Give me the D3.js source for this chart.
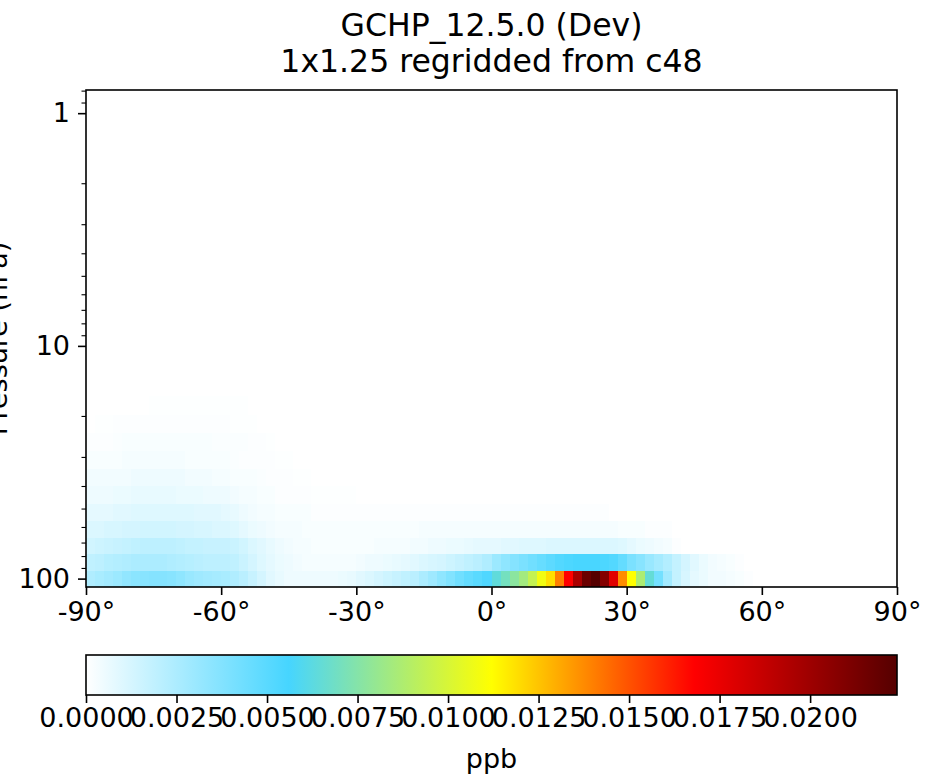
<!DOCTYPE html>
<html><head><meta charset="utf-8">
<script src="https://cdn.jsdelivr.net/npm/d3@7"></script>
<style>
body{margin:0;background:#fff}
svg{display:block}
text{font-family:"DejaVu Sans",sans-serif;fill:#000}
</style></head>
<body><svg id="c" width="937" height="780"></svg>
<script>
// ---------------- data ----------------
const titleLines = ["GCHP_12.5.0 (Dev)", "1x1.25 regridded from c48"];
const yLabel = "Pressure (hPa)";
const unitLabel = "ppb";
const latTicks = [-90, -60, -30, 0, 30, 60, 90];
const pressureMajorTicks = [1, 10, 100];
const pressureMinorTicks = [0.8, 0.9, 2, 3, 4, 5, 6, 7, 8, 9, 20, 30, 40, 50, 60, 70, 80, 90];
const cbarTicks = [0, 0.0025, 0.005, 0.0075, 0.01, 0.0125, 0.015, 0.0175, 0.02];
// model level pressure edges (hPa), bottom to top of the plotted range
const levelEdges = [108.663, 92.3657, 78.5123, 66.6034, 56.3879, 47.6439, 40.1754, 33.8100,
  28.3678, 23.7304, 19.7916, 16.4571, 13.6434, 11.2769, 9.2929, 7.6198, 6.2168, 5.0468,
  4.0766, 3.2764, 2.6202, 2.0850, 1.6508, 1.3005, 1.0194, 0.7951];
// latitude bin edges (2 degree bins)
const latEdges = d3.range(-90, 90.001, 2);
const UNIT = 1e-4; // values below are in 1e-4 ppb
// one row per model level, starting at the bottom level; 90 latitude bins (-89..89)
const lev1 = [24,26,28,30,33,35,36,37,37,36, 34,31,29,28,27,26,24,21,17,13,
  9,7,5,5,5,5,5,5,6,7, 9,11,13,15,17,19,21,25,29,34, 38,43,47,50,53,64,70,77,84,94,
  108,119,140,168,196,217,224,209,178,137, 112,87,65,42,28,18,12,8,6,4,
  4,3,2,1,0,0,0,0,0,0, 0,0,0,0,0,0,0,0,0,0];
const lev2 = [19,20,22,23,24,25,25,25,25,24, 23,22,21,20,20,20,19,16,13,10,
  8,6,5,4,3,3,3,3,3,3, 4,5,5,6,7,8,9,11,12,13, 15,17,19,21,24,30,34,37,40,43,
  46,49,52,54,55,55,55,54,52,47, 40,36,31,27,23,18,13,9,6,4,
  3,2,1,0,0,0,0,0,0,0, 0,0,0,0,0,0,0,0,0,0];
const lev3 = [14,15,16,17,18,19,20,20,20,20, 19,18,18,17,17,17,16,14,11,9,
  7,5,4,3,3,2,2,2,2,2, 2,2,3,3,3,3,4,4,5,5, 6,6,7,8,8,8,9,9,10,10,
  10,11,11,11,11,11,11,11,11,10, 8,6,5,4,3,1,0,0,0,0,
  0,0,0,0,0,0,0,0,0,0, 0,0,0,0,0,0,0,0,0,0];
const lev4 = [11,11,12,12,13,13,14,14,14,14, 13,13,12,12,11,11,10,8,6,5,
  4,3,3,3,2,2,2,2,2,2, 2,2,2,2,2,2,2,3,3,3, 3,3,3,3,3,3,3,3,3,3,
  3,3,3,3,3,3,3,3,3,2, 2,2,1,1,1,0,0,0,0,0,
  0,0,0,0,0,0,0,0,0,0, 0,0,0,0,0,0,0,0,0,0];
const lev5 = [8,8,8,9,9,10,10,10,10,10, 10,10,9,9,9,8,7,5,4,3,
  3,2,2,2,2,1,1,1,1,1, 1,1,1,1,1,1,1,1,1,1, 1,1,1,1,1,1,1,1,1,1,
  1,1,1,1,1,1,1,1,0,0, 0,0,0,0,0,0,0,0,0,0,
  0,0,0,0,0,0,0,0,0,0, 0,0,0,0,0,0,0,0,0,0];
const lev6 = [5,5,5,6,6,7,7,7,7,7, 6,6,6,5,5,5,4,3,3,2,
  2,1,1,1,1,0.5,0.5,0.5,0.5,0.5, 0,0,0,0,0,0,0,0,0,0, 0,0,0,0,0,0,0,0,0,0,
  0,0,0,0,0,0,0,0,0,0, 0,0,0,0,0,0,0,0,0,0,
  0,0,0,0,0,0,0,0,0,0, 0,0,0,0,0,0,0,0,0,0];
const lev7 = [4,4,4,4,4,5,5,5,5,5, 5,4,4,4,3,3,2,2,2,1.5,
  1,1,1,0.5,0.5,0,0,0,0,0, 0,0,0,0,0,0,0,0,0,0, 0,0,0,0,0,0,0,0,0,0,
  0,0,0,0,0,0,0,0,0,0, 0,0,0,0,0,0,0,0,0,0,
  0,0,0,0,0,0,0,0,0,0, 0,0,0,0,0,0,0,0,0,0];
const lev8 = [2,2,2,2,3,3,3,3,3,3, 3,2,2,2,2,2,1.5,1,1,1,
  1,0.5,0.5,0,0,0,0,0,0,0, 0,0,0,0,0,0,0,0,0,0, 0,0,0,0,0,0,0,0,0,0,
  0,0,0,0,0,0,0,0,0,0, 0,0,0,0,0,0,0,0,0,0,
  0,0,0,0,0,0,0,0,0,0, 0,0,0,0,0,0,0,0,0,0];
const lev9 = [1,1,1,1.5,2,2,2,2,2,2, 2,2,2,2,1.5,1.5,1.5,1.5,1,1,
  0.5,0,0,0,0,0,0,0,0,0, 0,0,0,0,0,0,0,0,0,0, 0,0,0,0,0,0,0,0,0,0,
  0,0,0,0,0,0,0,0,0,0, 0,0,0,0,0,0,0,0,0,0,
  0,0,0,0,0,0,0,0,0,0, 0,0,0,0,0,0,0,0,0,0];
const lev10 = [0,0.5,0.5,1,1,1,1,1,1,1, 1,1,1,1,1,1,0.5,0.5,0.5,0,
  0,0,0,0,0,0,0,0,0,0, 0,0,0,0,0,0,0,0,0,0, 0,0,0,0,0,0,0,0,0,0,
  0,0,0,0,0,0,0,0,0,0, 0,0,0,0,0,0,0,0,0,0,
  0,0,0,0,0,0,0,0,0,0, 0,0,0,0,0,0,0,0,0,0];
const lev11 = [0,0,0,0,0,0,0,0.5,0.5,0.5, 0.5,0.5,0.5,0.5,0.5,0.5,0.5,0.5,0,0,
  0,0,0,0,0,0,0,0,0,0, 0,0,0,0,0,0,0,0,0,0, 0,0,0,0,0,0,0,0,0,0,
  0,0,0,0,0,0,0,0,0,0, 0,0,0,0,0,0,0,0,0,0,
  0,0,0,0,0,0,0,0,0,0, 0,0,0,0,0,0,0,0,0,0];
const levelRows = [lev1, lev2, lev3, lev4, lev5, lev6, lev7, lev8, lev9, lev10, lev11];
// colormap (WhGrYlRd-like)
const cmapStops = [0, 0.25, 0.5, 0.75, 1];
const cmapColors = ["#ffffff", "#46d5ff", "#ffff00", "#ff0000", "#550000"];

// ---------------- drawing ----------------
const TICK_FONT = 27;
const svg = d3.select("#c");
const P = {left: 86, right: 897, top: 90, bottom: 587};
const x = d3.scaleLinear().domain([-90, 90]).range([P.left, P.right]);
const y = d3.scaleLog().domain([levelEdges[levelEdges.length - 1], levelEdges[0]]).range([P.top, P.bottom]);
const vmax = d3.max(levelRows.flat()) * UNIT;
const color = d3.scaleLinear().domain(cmapStops.map(s => s * vmax)).range(cmapColors)
  .interpolate(d3.interpolateRgb).clamp(true);

const cells = [];
levelRows.forEach((row, k) => {
  row.forEach((v, i) => {
    if (v > 0) cells.push({k, i, v: v * UNIT});
  });
});
svg.append("g").attr("shape-rendering", "crispEdges")
  .selectAll("rect").data(cells).join("rect")
  .attr("x", d => x(latEdges[d.i]))
  .attr("width", d => x(latEdges[d.i + 1]) - x(latEdges[d.i]))
  .attr("y", d => y(levelEdges[d.k + 1]))
  .attr("height", d => y(levelEdges[d.k]) - y(levelEdges[d.k + 1]))
  .attr("fill", d => color(d.v));

// frame
svg.append("rect").attr("x", P.left).attr("y", P.top)
  .attr("width", P.right - P.left).attr("height", P.bottom - P.top)
  .attr("fill", "none").attr("stroke", "#000").attr("stroke-width", 1.6);

// x axis
const gx = svg.append("g").attr("transform", `translate(0,${P.bottom})`)
  .call(d3.axisBottom(x).tickValues(latTicks).tickSize(8).tickPadding(7).tickFormat(d => d + "°"));
gx.select(".domain").remove();
gx.selectAll(".tick line").attr("stroke-width", 1.6);
gx.selectAll("text").attr("font-size", TICK_FONT).attr("font-family", "DejaVu Sans");

// y axis
const gy = svg.append("g").attr("transform", `translate(${P.left},0)`)
  .call(d3.axisLeft(y).tickValues(pressureMajorTicks).tickSize(8).tickPadding(8).tickFormat(d3.format("d")));
gy.select(".domain").remove();
gy.selectAll(".tick line").attr("stroke-width", 1.6);
gy.selectAll("text").attr("font-size", TICK_FONT).attr("font-family", "DejaVu Sans");
const gym = svg.append("g").attr("transform", `translate(${P.left},0)`)
  .call(d3.axisLeft(y).tickValues(pressureMinorTicks).tickSize(4.5).tickFormat(""));
gym.select(".domain").remove();
gym.selectAll(".tick line").attr("stroke-width", 1.1);

svg.append("text").attr("transform", `translate(7,${(P.top + P.bottom) / 2}) rotate(-90)`)
  .attr("text-anchor", "middle").attr("font-size", TICK_FONT).text(yLabel);

// title
titleLines.forEach((t, i) => {
  svg.append("text").attr("x", (P.left + P.right) / 2).attr("y", 36 + i * 36)
    .attr("text-anchor", "middle").attr("font-size", 31.5).text(t);
});

// colorbar
const CB = {top: 655, bottom: 695};
const cx = d3.scaleLinear().domain([0, vmax]).range([P.left, P.right]);
const grad = svg.append("defs").append("linearGradient").attr("id", "cbg")
  .attr("x1", "0%").attr("x2", "100%").attr("y1", "0%").attr("y2", "0%");
grad.selectAll("stop").data(cmapStops).join("stop")
  .attr("offset", d => (d * 100) + "%")
  .attr("stop-color", (d, i) => cmapColors[i]);
svg.append("rect").attr("x", P.left).attr("y", CB.top)
  .attr("width", P.right - P.left).attr("height", CB.bottom - CB.top)
  .attr("fill", "url(#cbg)").attr("stroke", "#000").attr("stroke-width", 1.6);
const gc = svg.append("g").attr("transform", `translate(0,${CB.bottom})`)
  .call(d3.axisBottom(cx).tickValues(cbarTicks).tickSize(8).tickPadding(5).tickFormat(d3.format(".4f")));
gc.select(".domain").remove();
gc.selectAll(".tick line").attr("stroke-width", 1.6);
gc.selectAll("text").attr("font-size", TICK_FONT).attr("font-family", "DejaVu Sans");
svg.append("text").attr("x", (P.left + P.right) / 2).attr("y", 768)
  .attr("text-anchor", "middle").attr("font-size", TICK_FONT).text(unitLabel);
</script></body></html>
